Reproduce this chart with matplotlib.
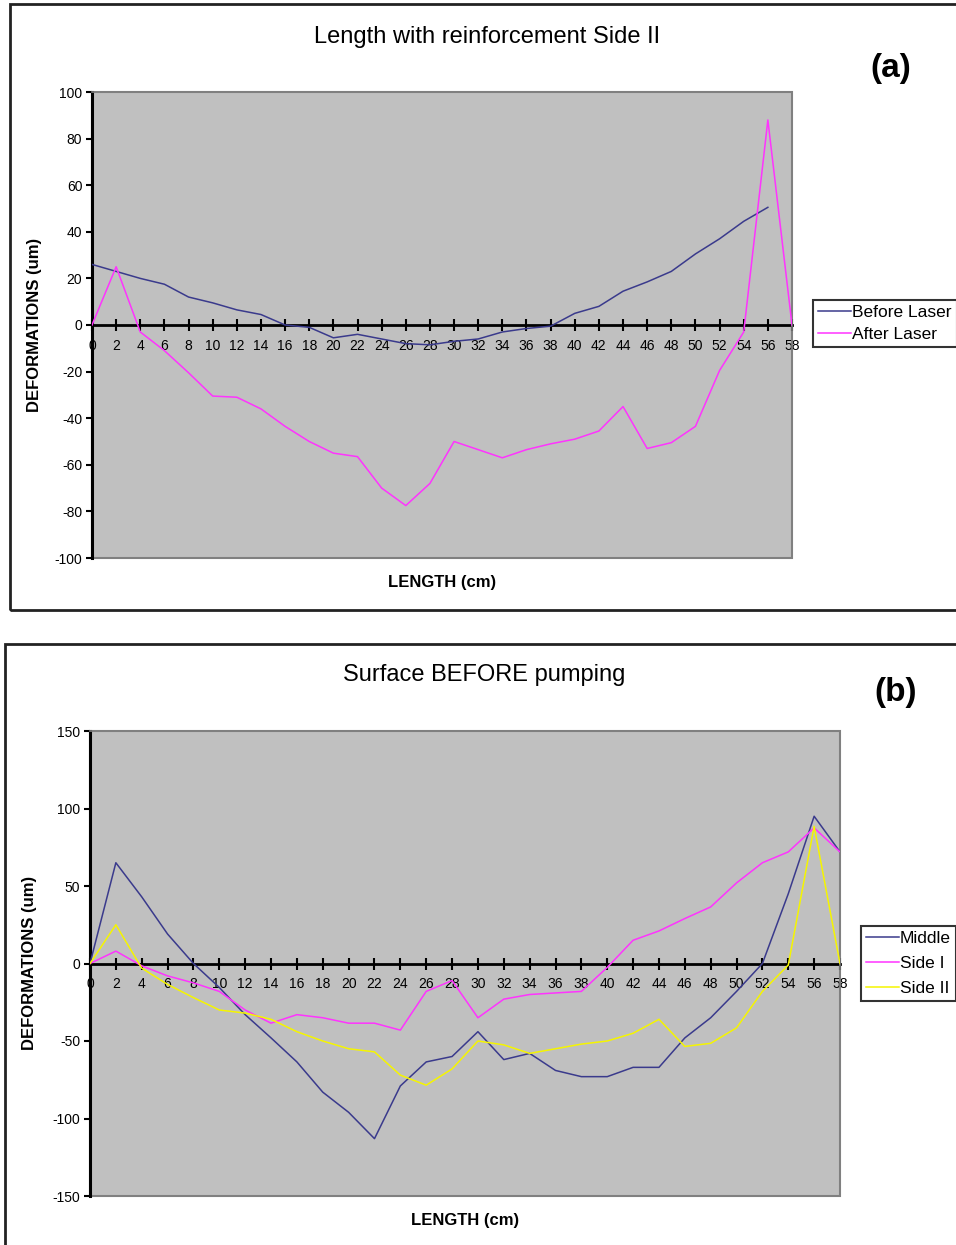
import numpy as np
import matplotlib
matplotlib.use("Agg")
import matplotlib.pyplot as plt
from matplotlib.patches import Rectangle

plt.rcParams['font.family'] = ['Liberation Sans', 'DejaVu Sans']
plt.rcParams['axes.unicode_minus'] = False

# -------------------- Data --------------------
length_before = np.arange(0, 57, 2)
length_full = np.arange(0, 59, 2)

before_laser = [26, 23, 20, 17.5, 12, 9.5, 6.5, 4.5, 0, -1, -5.5, -4, -6, -8, -8.5,
                -7, -6, -3, -1.5, -0.5, 5, 8, 14.5, 18.5, 23, 30.5, 37, 44.5, 50.5]
after_laser = [0, 25, -3, -11, -20.5, -30.5, -31, -36, -43.5, -50, -55, -56.5, -70, -77.5, -68,
               -50, -53.5, -57, -53.5, -51, -49, -45.5, -35, -53, -50.5, -43.5, -19.5, -3, 88, 0]

middle = [0, 65, 43, 19, 0, -15.5, -33, -48, -63.5, -83, -96, -113, -79, -63.5, -60,
          -44, -62, -58, -69, -73, -73, -67, -67, -48, -35, -18, 0, 45, 95, 72]
side_1 = [0, 8, -1.5, -8, -12.5, -18, -30, -38.5, -33, -35, -38.5, -38.5, -43, -18, -11,
          -35, -23, -20, -19, -18, -2.5, 15, 21, 29, 36.5, 52, 65, 72, 87.5, 72]
side_2 = [0, 25, -3, -13.5, -22, -30, -32, -36, -44, -50, -55, -57, -72, -78.5, -68,
          -50, -52.5, -58, -55, -52, -50, -45, -36, -53.5, -51.5, -41.5, -18, -1, 88.5, 0]

NAVY = '#3a3a8c'
MAGENTA = '#ff33ff'
YELLOW = '#f5f500'

W, H = 956, 1245
fig = plt.figure(figsize=(W / 100, H / 100), dpi=100)


def px_axes(left, top, right, bottom):
    return fig.add_axes([left / W, 1 - bottom / H, (right - left) / W, (bottom - top) / H])


# -------------------- Function to style an Excel-like chart --------------------
def style_axes(ax, ylim, yticks):
    ax.set_facecolor('#c0c0c0')
    ax.set_xlim(0, 58)
    ax.set_ylim(*ylim)
    ax.set_xticks(np.arange(0, 59, 2))
    ax.set_yticks(yticks)
    ax.spines['bottom'].set_position(('data', 0))
    ax.spines['bottom'].set_linewidth(2)
    ax.spines['left'].set_linewidth(2.2)
    ax.spines['top'].set_color('#808080')
    ax.spines['right'].set_color('#808080')
    ax.spines['top'].set_linewidth(1.2)
    ax.spines['right'].set_linewidth(1.2)
    ax.add_patch(Rectangle((0, 0), 1, 1, transform=ax.transAxes, fill=False,
                           edgecolor='#808080', lw=1.5, zorder=1, clip_on=False))
    ax.tick_params(axis='x', direction='inout', length=8, width=1.5, pad=6, labelsize=10)
    ax.tick_params(axis='y', direction='out', length=4, width=1.5, pad=3, labelsize=10)
    ax.spines['bottom'].set_zorder(2)


# -------------------- Panel (a) --------------------
fig.patches.append(Rectangle((10 / W, 1 - 610 / H), 960 / W, 606 / H, transform=fig.transFigure,
                             fill=False, edgecolor='#222222', lw=2))
ax1 = px_axes(92, 92, 792, 558)
style_axes(ax1, (-100, 100), np.arange(-100, 101, 20))
ax1.plot(length_before, before_laser, color=NAVY, lw=1.1, label='Before Laser', zorder=3)
ax1.plot(length_full, after_laser, color=MAGENTA, lw=1.1, label='After Laser', zorder=3)
ax1.legend(loc='upper left', bbox_to_anchor=(813 / W, 1 - 300 / H), bbox_transform=fig.transFigure,
           frameon=True, fancybox=False, edgecolor='black', fontsize=12.5, handlelength=1.9,
           handletextpad=0.05, borderpad=0.3, labelspacing=0.35, borderaxespad=0)
ax1.get_legend().get_frame().set_linewidth(1.5)

fig.text(487 / W, 1 - 37 / H, 'Length with reinforcement Side II', ha='center', va='center', fontsize=17)
fig.text(891 / W, 1 - 68 / H, '(a)', ha='center', va='center', fontsize=24, fontweight='bold')
fig.text(442 / W, 1 - 583 / H, 'LENGTH (cm)', ha='center', va='center', fontsize=12, fontweight='bold')
fig.text(35 / W, 1 - 325 / H, 'DEFORMATIONS (um)', ha='center', va='center', rotation=90,
         fontsize=12, fontweight='bold')

# -------------------- Panel (b) --------------------
fig.patches.append(Rectangle((5 / W, 1 - 1260 / H), 960 / W, 616 / H, transform=fig.transFigure,
                             fill=False, edgecolor='#222222', lw=2))
ax2 = px_axes(90, 731, 840, 1196)
style_axes(ax2, (-150, 150), np.arange(-150, 151, 50))
ax2.plot(length_full, middle, color=NAVY, lw=1.1, label='Middle', zorder=3)
ax2.plot(length_full, side_1, color=MAGENTA, lw=1.1, label='Side I', zorder=3)
ax2.plot(length_full, side_2, color=YELLOW, lw=1.1, label='Side II', zorder=3)
ax2.legend(loc='upper left', bbox_to_anchor=(861 / W, 1 - 926 / H), bbox_transform=fig.transFigure,
           frameon=True, fancybox=False, edgecolor='black', fontsize=12.5, handlelength=1.9,
           handletextpad=0.05, borderpad=0.3, labelspacing=0.55, borderaxespad=0)
ax2.get_legend().get_frame().set_linewidth(1.5)

fig.text(484 / W, 1 - 675 / H, 'Surface BEFORE pumping', ha='center', va='center', fontsize=17)
fig.text(896 / W, 1 - 693 / H, '(b)', ha='center', va='center', fontsize=24, fontweight='bold')
fig.text(465 / W, 1 - 1221 / H, 'LENGTH (cm)', ha='center', va='center', fontsize=12, fontweight='bold')
fig.text(30 / W, 1 - 963 / H, 'DEFORMATIONS (um)', ha='center', va='center', rotation=90,
         fontsize=12, fontweight='bold')

fig.savefig('out.png', dpi=100)
